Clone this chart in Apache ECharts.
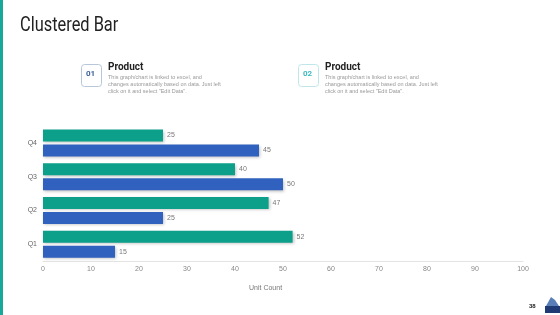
<!DOCTYPE html>
<html><head><meta charset="utf-8">
<script src="https://cdn.jsdelivr.net/npm/echarts@6/dist/echarts.min.js"></script>
<style>html,body{margin:0;padding:0;background:#fff}#c{width:560px;height:315px}</style>
</head><body><div id="c"></div>
<script>
const categories = ['Q1', 'Q2', 'Q3', 'Q4'];
const series1 = [15, 25, 50, 45];
const series2 = [52, 47, 40, 25];
const xTicks = [0, 10, 20, 30, 40, 50, 60, 70, 80, 90, 100];
const desc = ['This graph/chart is linked to excel, and', 'changes automatically based on data. Just left', 'click on it and select "Edit Data".'];

const chart = echarts.init(document.getElementById('c'), null, {renderer: 'canvas'});
const labelStyle = {show: true, position: 'right', fontSize: 7, color: '#777', distance: 4, fontFamily: 'Arial'};
const shadow = {shadowColor: 'rgba(0,0,0,0.25)', shadowBlur: 3, shadowOffsetY: 1.5, shadowOffsetX: 1};
function box(x, num, numColor, borderColor) {
  return [
    {type: 'rect', left: x, top: 64, shape: {width: 20, height: 22, r: 3}, style: {fill: '#fff', stroke: borderColor, lineWidth: 1}},
    {type: 'text', left: x + 5, top: 70, style: {text: num, fill: numColor, font: 'bold 8px Roboto'}},
    {type: 'text', left: x + 27, top: 62, style: {text: 'Product', fill: '#222', font: 'bold 10px Roboto'}},
    {type: 'text', left: x + 27, top: 74, style: {text: desc.join('\n'), fill: '#999', font: '5.5px Arial', lineHeight: 7}}
  ];
}
chart.setOption({
  animation: false,
  grid: {left: 43, right: 37, top: 126, bottom: 54},
  xAxis: {
    type: 'value', min: xTicks[0], max: xTicks[xTicks.length - 1], interval: 10,
    axisLine: {show: true, lineStyle: {color: '#e3e3e3'}},
    axisTick: {show: false}, splitLine: {show: false},
    axisLabel: {fontSize: 7, color: '#888', margin: 5, fontFamily: 'Arial'}
  },
  yAxis: {
    type: 'category', data: categories,
    axisLine: {show: false}, axisTick: {show: false},
    axisLabel: {fontSize: 7, color: '#666', margin: 6, fontFamily: 'Arial'}
  },
  series: [
    {type: 'bar', data: series2, barWidth: 12, barGap: '25%', itemStyle: Object.assign({color: '#0c9f8a'}, shadow), label: labelStyle},
    {type: 'bar', data: series1, barWidth: 12, barGap: '25%', itemStyle: Object.assign({color: '#3161be'}, shadow), label: labelStyle}
  ],
  graphic: [
    {type: 'rect', left: 0, top: 0, shape: {width: 3, height: 315}, style: {fill: '#17a89a'}},
    {type: 'text', x: 20, y: 16, scaleX: 0.82, style: {text: 'Clustered Bar', fill: '#222', font: '20px Roboto'}},
    ...box(81, '01', '#3a5f9a', '#b8c6da'),
    ...box(298, '02', '#3bb8c0', '#bfe6e8'),
    {type: 'text', left: 249, top: 285, style: {text: 'Unit Count', fill: '#777', font: '7px Arial'}},
    {type: 'text', left: 529, top: 303, style: {text: '38', fill: '#222', font: 'bold 6px Arial'}},
    {type: 'polygon', shape: {points: [[546, 306], [551, 297], [555, 300], [559, 306]]}, style: {fill: '#5a7fb8'}},
    {type: 'rect', left: 545, top: 306, shape: {width: 15, height: 7}, style: {fill: '#1f3a75'}}
  ]
});
</script></body></html>
